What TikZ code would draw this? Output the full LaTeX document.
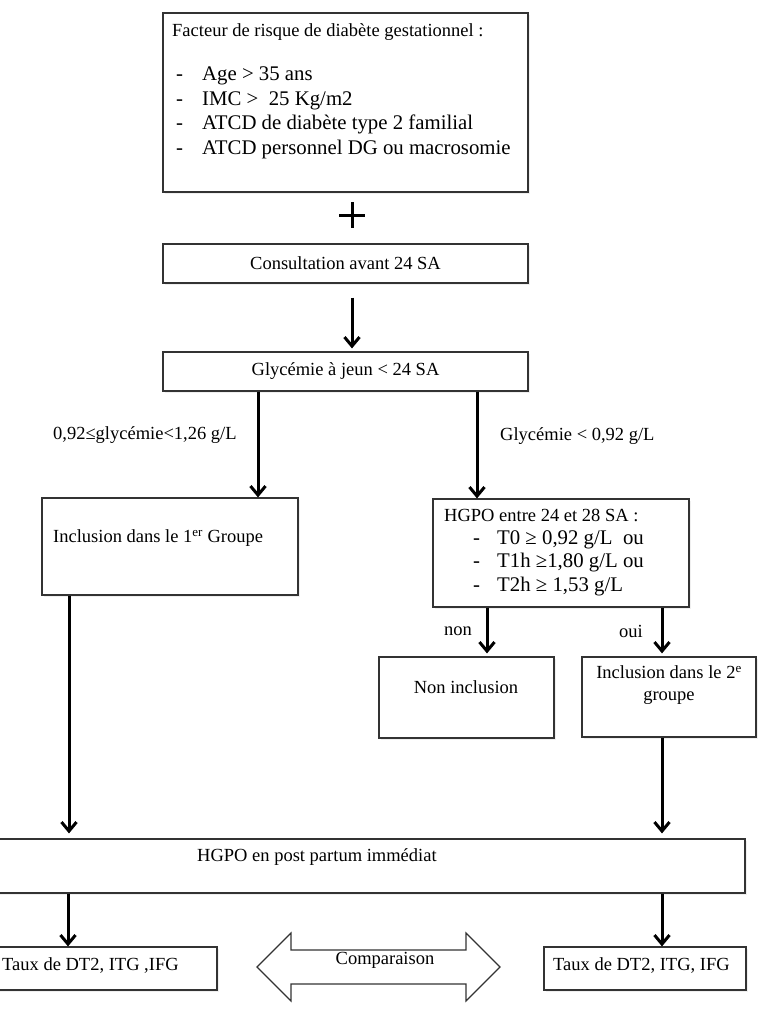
\documentclass[tikz,border=0pt]{standalone}
\usepackage{fontspec}
\setmainfont{Liberation Serif}
\usetikzlibrary{arrows.meta, shadows}

\newcommand\smalltxt{\fontsize{18.5}{22}\selectfont}
\newcommand\bigtxt{\fontsize{20.8}{24.5}\selectfont}

\begin{document}
\begin{tikzpicture}[
    x=1pt, y=-1pt,
    every node/.append style={inner sep=0pt},
    frame/.style={rectangle, draw=black!80, line width=1.2pt, fill=white,
        drop shadow={shadow xshift=1.5pt, shadow yshift=-2pt, fill=black!12}},
    txt/.style={font=\smalltxt},
    flow/.style={line width=3pt, -{Straight Barb[length=9pt,width=15pt]}}
]
    \useasboundingbox (0,0) rectangle (761,1012);

    % Facteurs de risque
    \node[frame, minimum width=365pt, minimum height=179pt] (riskbox) at (345.5,102.5) {};
    \node[txt, anchor=west] (risktitle) at (172,32) {Facteur de risque de diabète gestationnel :};
    \node[font=\bigtxt, anchor=west, align=left] (risklist) at (176,113)
        {\makebox[26pt][l]{-}Age > 35 ans\\
         \makebox[26pt][l]{-}IMC >\ \ 25 Kg/m2\\
         \makebox[26pt][l]{-}ATCD de diabète type 2 familial\\
         \makebox[26pt][l]{-}ATCD personnel DG ou macrosomie};

    % signe plus
    \coordinate (plus) at (352,215);
    \draw[line width=3pt] (339,215) -- (365,215) (352,202) -- (352,228);

    % Consultation et glycémie
    \node[frame, txt, minimum width=365pt, minimum height=39pt] (consult) at (345.5,263.5) {Consultation avant 24 SA};
    \node[frame, txt, minimum width=365pt, minimum height=39pt] (glyc) at (345.5,371.5) {Glycémie à jeun < 24 SA};
    \draw[flow, shorten <=14pt, shorten >=3pt] (consult.south -| plus) -- (glyc.north -| plus);

    % Branches
    \node[txt, anchor=west] (lblleft) at (53,435) {0,92≤glycémie<1,26 g/L};
    \node[txt, anchor=west] (lblright) at (500,436) {Glycémie < 0,92 g/L};

    \node[frame, minimum width=256pt, minimum height=97pt] (group1) at (170,546.5) {};
    \node[txt, anchor=west] (group1txt) at (53,538) {Inclusion dans le 1\textsuperscript{er} Groupe};

    \node[frame, minimum width=256pt, minimum height=108pt] (hgpo) at (561,553) {};
    \node[txt, anchor=west] (hgpotitle) at (444,515) {HGPO entre 24 et 28 SA :};
    \node[font=\bigtxt, anchor=west, align=left] (hgpolist) at (473,563)
        {\makebox[24pt][l]{-}T0 ≥ 0,92 g/L\ \ ou\\[-1pt]
         \makebox[24pt][l]{-}T1h ≥1,80 g/L ou\\[-1pt]
         \makebox[24pt][l]{-}T2h ≥ 1,53 g/L};

    \draw[flow] ([xshift=88pt]group1.north |- glyc.south) -- ([xshift=88pt]group1.north);
    \draw[flow] ([xshift=-84pt]hgpo.north |- glyc.south) -- ([xshift=-84pt]hgpo.north);

    % Résultat HGPO
    \node[txt] (nonlbl) at (458,631) {non};
    \node[txt] (ouilbl) at (631,631) {oui};

    \node[frame, minimum width=175pt, minimum height=81pt] (noninc) at (466.5,697.5) {};
    \node[txt] (noninctxt) at (466,687) {Non inclusion};
    \node[frame, minimum width=174pt, minimum height=80pt] (group2) at (669,697) {};
    \node[txt, align=center] (group2txt) at (669,685.5) {Inclusion dans le 2\textsuperscript{e}\\groupe};

    \draw[flow, shorten >=3pt] ([xshift=20.5pt]noninc.north |- hgpo.south) -- ([xshift=20.5pt]noninc.north);
    \draw[flow, shorten >=3pt] ([xshift=-7pt]group2.north |- hgpo.south) -- ([xshift=-7pt]group2.north);

    % Post partum
    \node[frame, minimum width=750pt, minimum height=54pt] (hgpopp) at (370,866) {};
    \node[txt, anchor=west] (hgpopptxt) at (197,857) {HGPO en post partum immédiat};

    \draw[flow, shorten >=5pt] ([xshift=-101pt]group1.south) -- ([xshift=-101pt]group1.south |- hgpopp.north);
    \draw[flow, shorten >=5pt] ([xshift=-7pt]group2.south) -- ([xshift=-7pt]group2.south |- hgpopp.north);

    % Taux
    \node[frame, minimum width=222pt, minimum height=43pt] (tauxA) at (106,968.5) {};
    \node[txt, anchor=west] (tauxAtxt) at (2,965) {Taux de DT2, ITG ,IFG};
    \node[frame, minimum width=202pt, minimum height=43pt] (tauxB) at (645,968.5) {};
    \node[txt, anchor=west] (tauxBtxt) at (553,965) {Taux de DT2, ITG, IFG};

    \draw[flow] ([xshift=-38pt]tauxA.north |- hgpopp.south) -- ([xshift=-38pt]tauxA.north);
    \draw[flow] ([xshift=17pt]tauxB.north |- hgpopp.south) -- ([xshift=17pt]tauxB.north);

    % Comparaison
    \draw[draw=black!80, line width=1.2pt, fill=white] (257,967) -- (291,933) -- (291,950) -- (466,950)
        -- (466,933) -- (500,967) -- (466,1001) -- (466,984) -- (291,984) -- (291,1001) -- cycle;
    \node[txt] (cmp) at (385,960) {Comparaison};

\end{tikzpicture}
\end{document}
